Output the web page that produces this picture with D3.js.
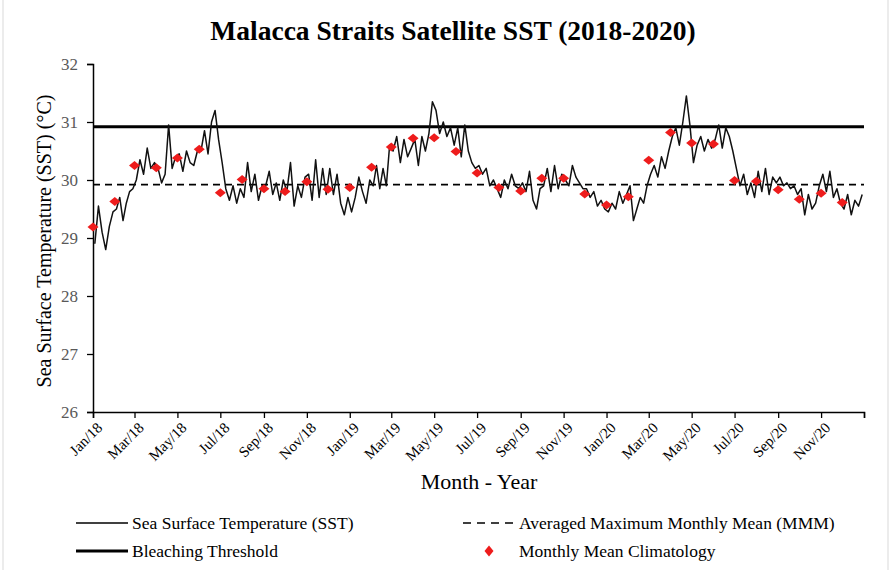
<!DOCTYPE html>
<html>
<head>
<meta charset="utf-8">
<script src="https://cdn.jsdelivr.net/npm/d3@7"></script>
<style>
  body { margin: 0; background: #fff; }
  text { font-family: "Liberation Serif", "Times New Roman", serif; }
</style>
</head>
<body>
<div class="chart"></div>
<script>
// Chart size
var svgWidth = 891;
var svgHeight = 570;

var margin = { top: 64, right: 27, bottom: 158, left: 93 };
var chartWidth = svgWidth - margin.left - margin.right;
var chartHeight = svgHeight - margin.top - margin.bottom;

// ---- data ----
var yTicks = [26, 27, 28, 29, 30, 31, 32];
var tickLabels = ["Jan/18", "Mar/18", "May/18", "Jul/18", "Sep/18", "Nov/18",
  "Jan/19", "Mar/19", "May/19", "Jul/19", "Sep/19", "Nov/19",
  "Jan/20", "Mar/20", "May/20", "Jul/20", "Sep/20", "Nov/20", ""];

var bleachingThreshold = 30.92;
var mmm = 29.92;

// monthly mean climatology, Jan 2018 .. Dec 2020
var climatology = [
  29.19, 29.63, 30.25, 30.21, 30.38, 30.53, 29.78, 30.01, 29.85, 29.80, 29.97, 29.84,
  29.87, 30.22, 30.57, 30.72, 30.73, 30.49, 30.12, 29.87, 29.81, 30.03, 30.03, 29.76,
  29.57, 29.71, 30.34, 30.82, 30.64, 30.62, 29.99, 29.98, 29.83, 29.67, 29.77, 29.61
];

// SST, six readings per month, Jan 2018 .. Dec 2020
var sst2018 = [
  28.9, 29.55, 29.1, 28.8, 29.2, 29.45,
  29.5, 29.7, 29.3, 29.6, 29.8, 29.85,
  30.0, 30.35, 30.1, 30.55, 30.2, 30.3,
  30.2, 29.95, 30.1, 30.95, 30.2, 30.4,
  30.45, 30.15, 30.5, 30.3, 30.25, 30.5,
  30.5, 30.85, 30.45, 31.0, 31.2, 30.7,
  30.3, 29.85, 29.65, 29.9, 29.6, 29.85,
  29.7, 30.3, 29.8, 30.1, 29.65, 29.9,
  29.9, 30.15, 29.75, 29.95, 29.65, 30.0,
  29.8, 30.3, 29.55, 29.9, 29.7, 30.05,
  30.1, 29.65, 30.35, 29.7, 30.2, 29.75,
  30.2, 29.75, 30.1, 29.6, 29.4, 29.7
];
var sst2019 = [
  29.45, 29.7, 30.05, 29.8, 29.6, 30.0,
  29.9, 30.25, 29.85, 30.2, 29.9, 30.6,
  30.5, 30.75, 30.3, 30.7, 30.4, 30.55,
  30.7, 30.25, 30.75, 30.5, 30.8, 31.35,
  31.2, 30.8, 31.0, 30.75, 30.9, 30.6,
  30.9, 30.4, 30.95, 30.5, 30.3, 30.2,
  30.25, 30.1, 30.2, 29.9, 30.0, 29.85,
  29.7, 30.0, 29.85, 30.1, 29.9, 29.85,
  29.95, 29.8, 30.15, 29.65, 29.5, 29.85,
  29.9, 30.2, 29.8, 30.25, 29.85, 30.1,
  30.0, 29.9, 30.25, 30.05, 29.95, 29.85,
  29.85, 29.7, 29.8, 29.55, 29.65, 29.5
];
var sst2020 = [
  29.45, 29.6, 29.5, 29.8, 29.6, 29.75,
  29.9, 29.3, 29.5, 29.7, 29.6, 29.9,
  30.1, 30.25, 30.05, 30.4, 30.2, 30.5,
  30.75, 30.9, 30.6, 31.0, 31.45, 30.95,
  30.3, 30.6, 30.75, 30.5, 30.7, 30.55,
  30.7, 30.95, 30.55, 30.9, 30.75, 30.5,
  30.2, 29.9, 30.1, 29.75, 29.95, 29.7,
  30.15, 29.8, 30.2, 29.75, 30.05, 29.95,
  30.05, 29.9, 29.95, 29.85, 29.9, 29.75,
  29.85, 29.4, 29.75, 29.5, 29.6, 29.9,
  30.1, 29.8, 30.15, 29.7, 29.85, 29.6,
  29.5, 29.75, 29.4, 29.65, 29.55, 29.75
];

// ---- build dated series ----
var sstValues = sst2018.concat(sst2019, sst2020);
var sstData = sstValues.map(function(v, i) {
  var m = Math.floor(i / 6), k = i % 6;
  var start = new Date(2018, m, 1), end = new Date(2018, m + 1, 1);
  var t = start.getTime() + (end - start) * (k + 0.5) / 6;
  return { date: new Date(t), value: v };
});
var climData = climatology.map(function(v, i) {
  return { date: new Date(2018, i, 1), value: v };
});
var tickDates = tickLabels.map(function(d, i) { return new Date(2018, i * 2, 1); });

var svg = d3.select(".chart")
  .append("svg")
  .attr("width", svgWidth)
  .attr("height", svgHeight);

// light frame
svg.append("rect")
  .attr("x", 3).attr("y", -2)
  .attr("width", svgWidth - 6).attr("height", svgHeight + 4)
  .attr("fill", "none").attr("stroke", "#d9d9d9");

var chartGroup = svg.append("g")
  .attr("transform", `translate(${margin.left}, ${margin.top})`);

var xScale = d3.scaleTime()
  .domain([new Date(2018, 0, 1), new Date(2021, 0, 1)])
  .range([0, chartWidth]);

var yScale = d3.scaleLinear()
  .domain([26, 32])
  .range([chartHeight, 0]);

// axes
var leftAxis = d3.axisLeft(yScale).tickValues(yTicks).tickFormat(d3.format("d"))
  .tickSize(6).tickPadding(9);
var bottomAxis = d3.axisBottom(xScale)
  .tickValues(tickDates)
  .tickFormat(function(d, i) { return tickLabels[i]; })
  .tickSize(6);

var yAxisG = chartGroup.append("g").call(leftAxis)
  .attr("font-family", "Liberation Serif, serif");
yAxisG.select(".domain").attr("stroke", "#000").attr("stroke-width", 1.5);
yAxisG.selectAll(".tick line").attr("stroke", "#000").attr("stroke-width", 1.3);
yAxisG.selectAll("text")
  .attr("font-size", 17)
  .attr("fill", "#595959");

var xAxisG = chartGroup.append("g")
  .attr("transform", "translate(0, " + chartHeight + ")")
  .call(bottomAxis)
  .attr("font-family", "Liberation Serif, serif");
xAxisG.select(".domain").attr("stroke", "#000").attr("stroke-width", 1.5);
xAxisG.selectAll(".tick line").attr("stroke", "#000").attr("stroke-width", 1.3);
xAxisG.selectAll("text")
  .attr("font-size", 15)
  .attr("fill", "#000")
  .attr("text-anchor", "end")
  .attr("y", 0)
  .attr("dy", "0.35em")
  .attr("transform", "translate(6, 13) rotate(-45)");

// reference lines
chartGroup.append("line")
  .attr("x1", 0).attr("x2", chartWidth)
  .attr("y1", yScale(bleachingThreshold)).attr("y2", yScale(bleachingThreshold))
  .attr("stroke", "#000").attr("stroke-width", 3);

chartGroup.append("line")
  .attr("x1", 0).attr("x2", chartWidth)
  .attr("y1", yScale(mmm)).attr("y2", yScale(mmm))
  .attr("stroke", "#000").attr("stroke-width", 1.8)
  .attr("stroke-dasharray", "7,5");

// SST line
var line = d3.line()
  .x(function(d) { return xScale(d.date); })
  .y(function(d) { return yScale(d.value); });

chartGroup.append("path")
  .datum(sstData)
  .attr("d", line)
  .attr("fill", "none")
  .attr("stroke", "#111")
  .attr("stroke-width", 1.5)
  .attr("stroke-linejoin", "round");

// climatology diamonds
var diamond = "M0,-4.5L5.5,0L0,4.5L-5.5,0Z";
chartGroup.selectAll(".clim")
  .data(climData)
  .enter().append("path")
  .attr("class", "clim")
  .attr("d", diamond)
  .attr("fill", "#ee1c1c")
  .attr("transform", function(d) {
    return "translate(" + xScale(d.date) + "," + yScale(d.value) + ")";
  });

// titles
svg.append("text")
  .attr("x", 453).attr("y", 40)
  .attr("text-anchor", "middle")
  .attr("font-size", 27.5).attr("font-weight", "bold")
  .text("Malacca Straits Satellite SST (2018-2020)");

svg.append("text")
  .attr("transform", "translate(51, " + (margin.top + chartHeight / 2 + 3) + ") rotate(-90)")
  .attr("text-anchor", "middle")
  .attr("font-size", 20)
  .text("Sea Surface Temperature (SST) (°C)");

svg.append("text")
  .attr("x", 479).attr("y", 489)
  .attr("text-anchor", "middle")
  .attr("font-size", 22)
  .text("Month - Year");

// legend
var legend = svg.append("g").attr("font-size", 17.5);
legend.append("line").attr("x1", 76).attr("x2", 128).attr("y1", 523).attr("y2", 523)
  .attr("stroke", "#000").attr("stroke-width", 1.4);
legend.append("text").attr("x", 132).attr("y", 529).text("Sea Surface Temperature (SST)");
legend.append("line").attr("x1", 76).attr("x2", 128).attr("y1", 551).attr("y2", 551)
  .attr("stroke", "#000").attr("stroke-width", 3);
legend.append("text").attr("x", 132).attr("y", 557).text("Bleaching Threshold");
legend.append("line").attr("x1", 463).attr("x2", 515).attr("y1", 523).attr("y2", 523)
  .attr("stroke", "#000").attr("stroke-width", 1.5).attr("stroke-dasharray", "8,6");
legend.append("text").attr("x", 519).attr("y", 529).text("Averaged Maximum Monthly Mean (MMM)");
legend.append("path").attr("d", "M0,-5.5L4.5,0L0,5.5L-4.5,0Z").attr("fill", "#ee1c1c")
  .attr("transform", "translate(489, 551)");
legend.append("text").attr("x", 519).attr("y", 557).text("Monthly Mean Climatology");
</script>
</body>
</html>
